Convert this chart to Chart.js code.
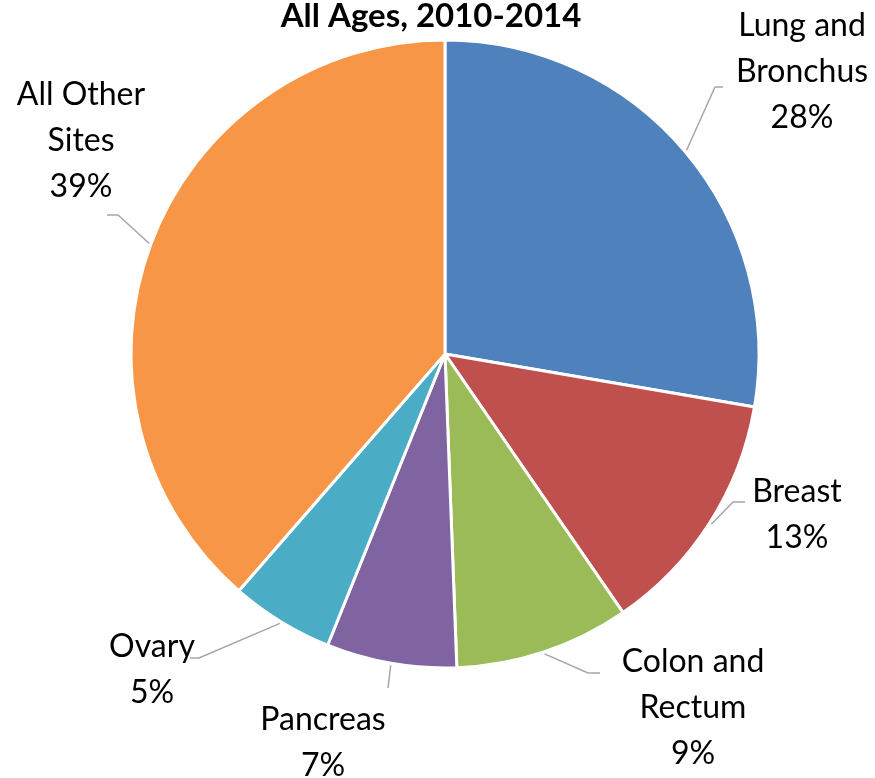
<!DOCTYPE html>
<html>
<head>
<meta charset="utf-8">
<script src="https://cdn.jsdelivr.net/npm/chart.js@4.4.1/dist/chart.umd.min.js"></script>
<style>
  html, body { margin: 0; padding: 0; background: #fff; }
  #chart { display: block; }
</style>
</head>
<body>
<canvas id="chart" width="875" height="778"></canvas>
<script>
const title = "All Ages, 2010-2014";
const sites = [["Lung and", "Bronchus"], ["Breast"], ["Colon and", "Rectum"], ["Pancreas"], ["Ovary"], ["All Other", "Sites"]];
const shares = [27.7, 12.7, 9.0, 6.7, 5.3, 38.6];
const colors = ["#4F81BD", "#C0504D", "#9BBB59", "#8064A2", "#4BACC6", "#F79646"];

// where each label sits: text centre, first baseline, leader elbow and end
const labelLayout = [
  { x: 802, y: 36, elbow: [715, 87], end: [723, 87] },
  { x: 797, y: 502, elbow: [733, 502], end: [745, 502] },
  { x: 693, y: 672, elbow: [588, 673], end: [600, 673] },
  { x: 323, y: 730, elbow: [388, 688], end: [388, 688] },
  { x: 152, y: 657, elbow: [199, 658], end: [190, 658] },
  { x: 81, y: 105, elbow: [118, 215], end: [107, 215] },
];

const FONT = "Lato, 'Open Sans', sans-serif";
const LINE_H = 46;

const total = shares.reduce((a, b) => a + b, 0);

const labelsPlugin = {
  id: "pieLabels",
  afterDraw(chart) {
    const ctx = chart.ctx;
    const arcs = chart.getDatasetMeta(0).data;
    ctx.save();

    // title
    ctx.fillStyle = "#000";
    ctx.textAlign = "center";
    ctx.textBaseline = "alphabetic";
    ctx.font = "bold 33px " + FONT;
    ctx.fillText(title, 431, 27);

    arcs.forEach((arc, i) => {
      const p = arc.getProps(["x", "y", "startAngle", "endAngle", "outerRadius"], true);
      const mid = (p.startAngle + p.endAngle) / 2;
      const r = p.outerRadius + 2;
      const sx = p.x + Math.cos(mid) * r;
      const sy = p.y + Math.sin(mid) * r;
      const lay = labelLayout[i];

      ctx.strokeStyle = "#A6A6A6";
      ctx.lineWidth = 1.5;
      ctx.beginPath();
      ctx.moveTo(sx, sy);
      ctx.lineTo(lay.elbow[0], lay.elbow[1]);
      ctx.lineTo(lay.end[0], lay.end[1]);
      ctx.stroke();

      const lines = sites[i].concat([Math.round(shares[i] / total * 100) + "%"]);
      ctx.fillStyle = "#000";
      ctx.font = "32px " + FONT;
      lines.forEach((t, k) => ctx.fillText(t, lay.x, lay.y + k * LINE_H));
    });
    ctx.restore();
  }
};

new Chart(document.getElementById("chart"), {
  type: "pie",
  data: {
    labels: sites.map(s => s.join(" ")),
    datasets: [{
      data: shares,
      backgroundColor: colors,
      borderColor: "#fff",
      borderWidth: 3,
    }],
  },
  options: {
    responsive: false,
    animation: false,
    radius: 314,
    layout: { padding: { left: 15, right: 0, top: 0, bottom: 70 } },
    plugins: {
      legend: { display: false },
      tooltip: { enabled: false },
    },
  },
  plugins: [labelsPlugin],
});
</script>
</body>
</html>
